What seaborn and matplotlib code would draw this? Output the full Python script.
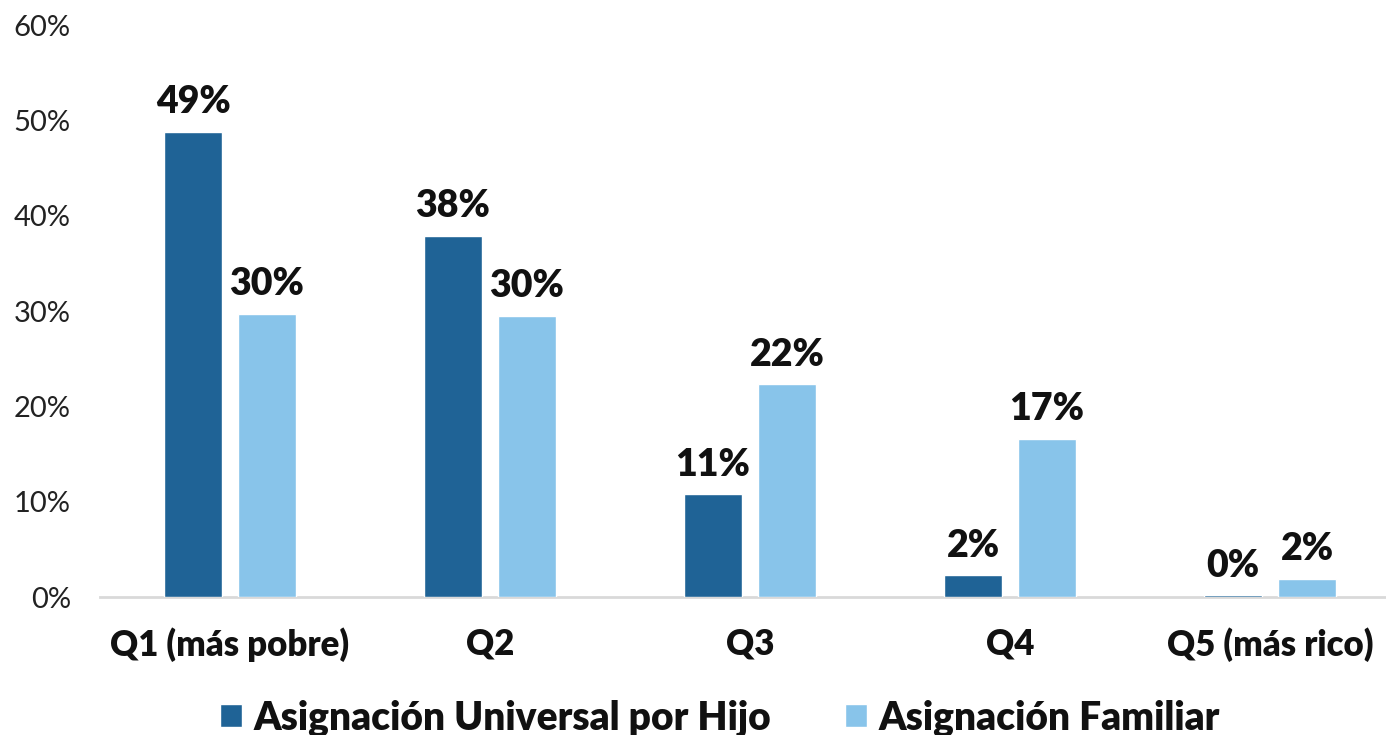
import matplotlib
matplotlib.use("Agg")
import matplotlib.pyplot as plt
import seaborn as sns
import pandas as pd

categories = ["Q1 (más pobre)", "Q2", "Q3", "Q4", "Q5 (más rico)"]
series_names = ["Asignación Universal por Hijo", "Asignación Familiar"]
auh_values = [48.8, 37.9, 10.8, 2.3, 0.2]
af_values = [29.7, 29.5, 22.3, 16.6, 1.9]
y_ticks = [0, 10, 20, 30, 40, 50, 60]
colors = ["#1F6396", "#88C4EA"]

df = pd.DataFrame({
    "cat": categories * 2,
    "serie": [series_names[0]] * 5 + [series_names[1]] * 5,
    "val": auh_values + af_values,
})

sns.set_theme(style="white")
plt.rcParams["font.family"] = ["Lato", "DejaVu Sans"]

fig = plt.figure(figsize=(13.86, 7.35), dpi=100)
ax = fig.add_axes([100 / 1386, (735 - 597) / 735, 1 - 100 / 1386, (597 - 25) / 735])

sns.barplot(data=df, x="cat", y="val", hue="serie", order=categories,
            hue_order=series_names, palette=colors, width=0.569, gap=0.216,
            saturation=1, ax=ax, legend=True)

for cont in ax.containers:
    ax.bar_label(cont, labels=[f"{v:.0f}%" for v in cont.datavalues],
                 padding=9, fontsize=27, fontweight="heavy", color="#111111")

ax.set_ylim(0, 60)
ax.set_xlim(-0.5, 4.446)
ax.set_yticks(y_ticks)
ax.set_yticklabels([f"{t}%" for t in y_ticks], fontsize=21, color="#222222")
ax.tick_params(axis="y", length=0, pad=21)
ax.tick_params(axis="x", length=0, pad=22)
for lab in ax.get_xticklabels():
    lab.set_fontsize(25)
    lab.set_fontweight("heavy")
    lab.set_color("#111111")
ax.set_xlabel("")
ax.set_ylabel("")
for s in ["left", "right", "top"]:
    ax.spines[s].set_visible(False)
ax.spines["bottom"].set_color("#D9D9D9")
ax.spines["bottom"].set_linewidth(2)
ax.spines["bottom"].set_zorder(0.5)
ax.grid(False)

leg = ax.legend(loc="center", bbox_to_anchor=((720 - 100) / 1286, -0.212),
                ncol=2, frameon=False, fontsize=28, handlelength=0.55, handleheight=0.55,
                handletextpad=0.3, columnspacing=1.9)
for t in leg.get_texts():
    t.set_fontweight("heavy")
    t.set_color("#111111")

fig.savefig("out.png", dpi=100)
